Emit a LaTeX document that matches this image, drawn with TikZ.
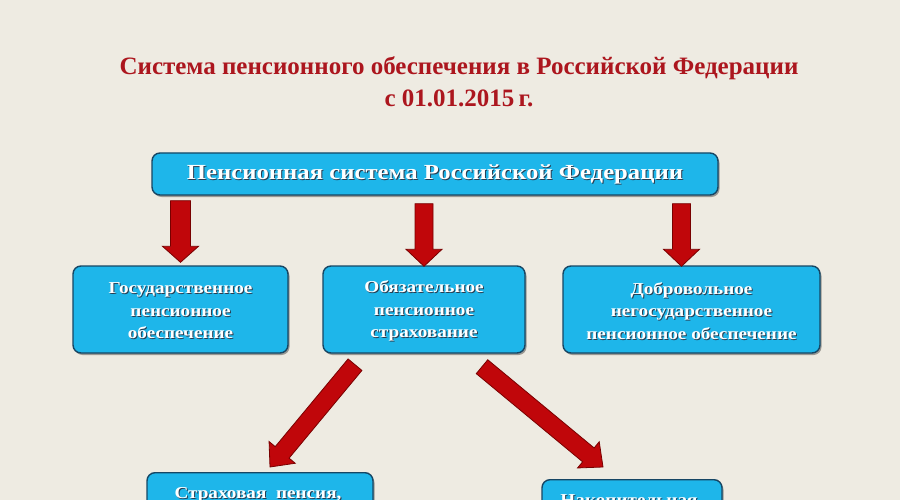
\documentclass[tikz,border=0pt]{standalone}
\usepackage{fontspec}
\setmainfont{Liberation Serif}
\newfontfamily\widefont[FakeStretch=1.15]{Liberation Serif}
\usetikzlibrary{calc,shadows}
\definecolor{bgc}{RGB}{238,235,226}
\definecolor{titlec}{RGB}{172,22,30}
\definecolor{boxc}{RGB}{30,182,234}
\definecolor{boxline}{RGB}{22,70,100}
\definecolor{arrowc}{RGB}{192,6,10}
\definecolor{arrowline}{RGB}{120,0,0}
\definecolor{shadowc}{RGB}{40,60,80}
\newcommand\shtext[1]{\makebox[0pt][l]{\raisebox{-1pt}{\hspace{1pt}\textcolor{shadowc}{#1}}}#1}
\newcommand\blockarrow[5]{%
  \coordinate (ah) at ($(#2)!#5!(#1)$);
  \draw[arrowsty] ($(#1)!#3!90:(#2)$) -- ($(ah)!#3!90:(#2)$) -- ($(ah)!#4!90:(#2)$) -- (#2)
    -- ($(ah)!#4!-90:(#2)$) -- ($(ah)!#3!-90:(#2)$) -- ($(#1)!#3!-90:(#2)$) -- cycle;}
\tikzset{
  titlesty/.style={text=titlec, font=\bfseries\fontsize{25}{28}\selectfont, inner sep=0pt},
  boxsty/.style={rectangle, rounded corners=8pt, fill=boxc, draw=boxline, line width=1.4pt,
    drop shadow={shadow xshift=1.5pt, shadow yshift=-2pt, fill=black, opacity=0.35}},
  boxtext/.style={text=white, align=center, inner sep=0pt,
    font=\widefont\bfseries\fontsize{16.7}{22.5}\selectfont},
  arrowsty/.style={fill=arrowc, draw=arrowline, line width=0.8pt, line join=miter}
}
\begin{document}
\begin{tikzpicture}[x=1pt,y=-1pt]
\useasboundingbox (0,0) rectangle (900,500);
\clip (0,0) rectangle (900,500);
\fill[bgc] (0,0) rectangle (900,500);

\node[titlesty] (t1) at (459,68) {Система пенсионного обеспечения в Российской Федерации};
\node[titlesty] (t2) at (459,98) {с 01.01.2015\,г.};

\node[boxsty, minimum width=566pt, minimum height=42pt] (top) at (435,174) {};
\node[boxtext, font=\widefont\bfseries\fontsize{21.5}{24}\selectfont] (topt) at ($(top.center)+(0,1)$)
  {\shtext{Пенсионная система Российской Федерации}};

\node[boxsty, minimum width=215pt, minimum height=87pt] (b1) at (180.5,309.5) {};
\node[boxtext] (b1t) at ($(b1.center)+(0,2)$)
  {\shtext{Государственное}\\\shtext{пенсионное}\\\shtext{обеспечение}};
\node[boxsty, minimum width=202pt, minimum height=87pt] (b2) at (424,309.5) {};
\node[boxtext] (b2t) at ($(b2.center)+(0,2)$)
  {\shtext{Обязательное}\\\shtext{пенсионное}\\\shtext{страхование}};
\node[boxsty, minimum width=257pt, minimum height=87pt] (b3) at (691.5,309.5) {};
\node[boxtext] (b3t) at ($(b3.center)+(0,2)$)
  {\shtext{Добровольное}\\\shtext{негосударственное}\\\shtext{пенсионное обеспечение}};

\node[boxsty, minimum width=226pt, minimum height=80pt, anchor=north] (bl) at (260,472) {};
\node[boxtext, anchor=base] (blt) at ($(bl.north)+(-2,26)$) {\shtext{Страховая\ \ пенсия,}};
\node[boxsty, minimum width=180pt, minimum height=80pt, anchor=north] (br) at (632,479) {};
\node[boxtext, anchor=base] (brt) at ($(br.north)+(-3,26)$) {\shtext{Накопительная}};

% vertical arrows
\coordinate (s1) at ($(top.south -| b1.north)+(0,5)$);
\coordinate (e1) at ($(b1.north)+(0,-3)$);
\blockarrow{s1}{e1}{10pt}{18pt}{16pt}
\coordinate (s2) at ($(top.south -| b2.north)+(0,8)$);
\coordinate (e2) at ($(b2.north)+(0,1)$);
\blockarrow{s2}{e2}{9pt}{18pt}{17pt}
\coordinate (s3) at ($(top.south -| b3.north)+(-10,8)$);
\coordinate (e3) at ($(b3.north)+(-10,1)$);
\blockarrow{s3}{e3}{9pt}{18pt}{17pt}

% diagonal arrows
\coordinate (s4) at ($(b2.south)+(-69,11)$);
\coordinate (e4) at ($(bl.north)+(10,-5)$);
\blockarrow{s4}{e4}{9pt}{17pt}{19pt}
\coordinate (s5) at ($(b2.south)+(58,13)$);
\coordinate (e5) at ($(br.north)+(-29,-12)$);
\blockarrow{s5}{e5}{9pt}{17pt}{19pt}
\end{tikzpicture}
\end{document}
